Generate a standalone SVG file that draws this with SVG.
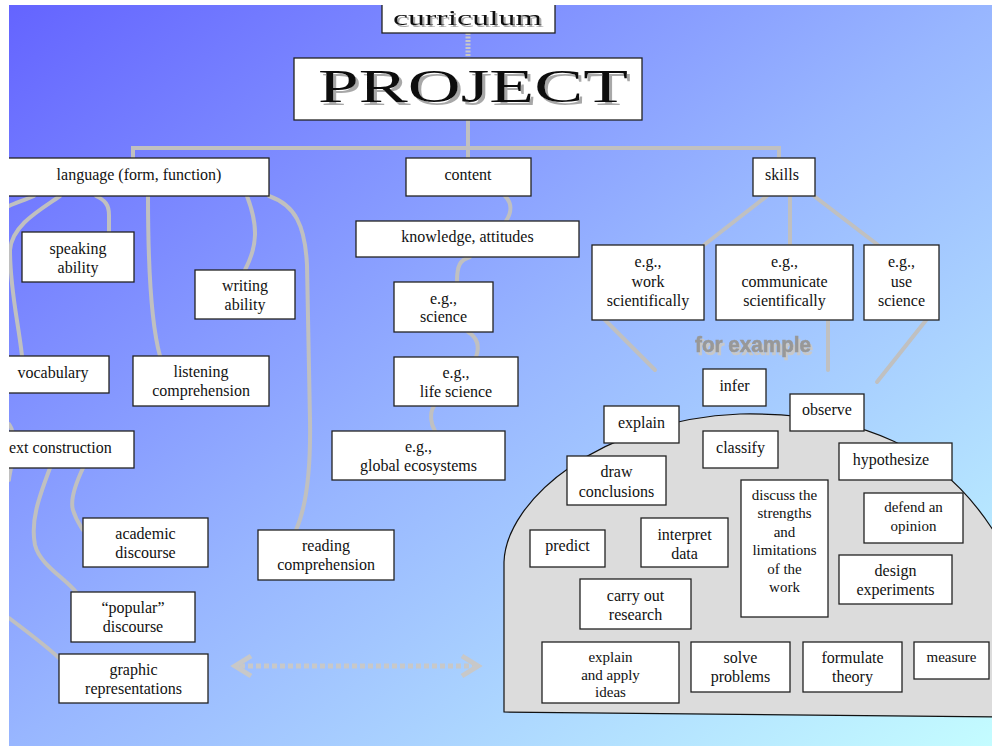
<svg xmlns="http://www.w3.org/2000/svg" width="992" height="746" viewBox="0 0 992 746">
<defs>
<linearGradient id="bg" x1="0" y1="0" x2="1" y2="1">
<stop offset="0" stop-color="#6464FF"/>
<stop offset="0.5" stop-color="#98B6FF"/>
<stop offset="1" stop-color="#C4FCFF"/>
</linearGradient>
<filter id="sh" x="-10%" y="-30%" width="130%" height="170%">
<feOffset in="SourceAlpha" dx="2" dy="2" result="o"/>
<feFlood flood-color="#AAAAAA"/>
<feComposite in2="o" operator="in" result="s"/>
<feMerge><feMergeNode in="s"/><feMergeNode in="SourceGraphic"/></feMerge>
</filter>
<filter id="sh2" x="-10%" y="-30%" width="130%" height="170%">
<feOffset in="SourceAlpha" dx="3" dy="3" result="o"/>
<feFlood flood-color="#A8A8A8"/>
<feComposite in2="o" operator="in" result="s"/>
<feMerge><feMergeNode in="s"/><feMergeNode in="SourceGraphic"/></feMerge>
</filter>
<filter id="sh3" x="-10%" y="-30%" width="130%" height="170%">
<feOffset in="SourceAlpha" dx="2" dy="3" result="o"/>
<feFlood flood-color="#C8C8C8"/>
<feComposite in2="o" operator="in" result="s"/>
<feMerge><feMergeNode in="s"/><feMergeNode in="SourceGraphic"/></feMerge>
</filter>
</defs>
<style>
.box{fill:#fff;stroke:#222;stroke-width:1.3}
.t{font-family:"Liberation Serif","Times New Roman",serif;font-size:16px;fill:#111;text-anchor:middle}
.s{font-size:15px}
.conn path,.conn line{fill:none;stroke:#C0C0C0;stroke-width:4;stroke-linecap:round}
.arr{fill:none;stroke:#C8C8C8;stroke-width:5}
</style>
<rect x="0" y="0" width="992" height="746" fill="#fff"/>
<rect x="9" y="5" width="983" height="741" fill="url(#bg)"/>

<g id="examples-area">
<path d="M504,712 L504,562 C506,500 600,420 740,414 C850,412 950,440 1010,560 L1010,717 Z" fill="#DCDCDC" stroke="#111" stroke-width="1.2"/>
</g>

<g class="conn" id="connectors">
<line x1="468" y1="33" x2="468" y2="58" style="stroke:#C8C8C8;stroke-width:5;stroke-dasharray:2 1.5;stroke-linecap:butt"/>
<path d="M468,120 L468,158"/>
<path d="M133,158 L133,148 L779,148 L779,158"/>
<path d="M34,196 C25,200 15,203 9,206"/>
<path d="M60,196 C40,210 12,225 10,250 C10,290 18,320 22,356"/>
<path d="M96,196 C105,200 109,205 109,215 L109,232"/>
<path d="M148,196 C148,260 150,320 160,356"/>
<path d="M247,196 C258,225 258,245 245,270"/>
<path d="M269,196 C295,205 305,225 307,265 L310,420 C311,480 305,510 296,530"/>
<path d="M9,424 C11,427 12,429 12,431"/>
<path d="M11,468 C10,473 9,477 9,480"/>
<path d="M50,468 C40,495 30,520 35,545 C40,565 65,578 76,592"/>
<path d="M83,468 C75,485 70,500 73,510 C76,520 80,525 83,530"/>
<path d="M9,618 C25,630 45,645 59,658"/>
<path d="M505,196 C512,203 512,212 506,221"/>
<path d="M470,257 C460,260 457,265 457,282"/>
<path d="M468,332 C478,338 480,346 476,357"/>
<path d="M434,406 C429,414 431,424 435,431"/>
<line x1="767" y1="196" x2="704" y2="245"/>
<line x1="790" y1="196" x2="790" y2="245"/>
<line x1="814" y1="196" x2="878" y2="245"/>
<line x1="604" y1="319" x2="655" y2="370"/>
<line x1="828" y1="319" x2="828" y2="370"/>
<line x1="927" y1="319" x2="877" y2="382"/>
</g>

<g id="link-arrow">
<line x1="240" y1="666" x2="473" y2="666" class="arr" style="stroke-dasharray:5 3"/>
<polyline points="251,656 235,666 251,676" class="arr"/>
<polyline points="462,656 478,666 462,676" class="arr"/>
</g>

<g id="for-example">
<text x="695" y="352" font-family="'Liberation Sans Narrow','Liberation Sans',sans-serif" font-weight="bold" font-size="22" fill="#989898" stroke="#989898" stroke-width="0.6" textLength="116" lengthAdjust="spacingAndGlyphs" filter="url(#sh3)">for example</text>
</g>

<g id="curriculum">
<rect class="box" x="382" y="-2" width="173" height="35"/>
<text x="393" y="25" font-family="'Liberation Serif',serif" font-size="22" fill="#111" textLength="149" lengthAdjust="spacingAndGlyphs" filter="url(#sh)">curriculum</text>
</g>
<g id="project">
<rect class="box" x="294" y="58" width="348" height="62"/>
<text x="318" y="102" font-family="'Liberation Serif',serif" font-size="46" fill="#111" textLength="310" lengthAdjust="spacingAndGlyphs" filter="url(#sh2)">PROJECT</text>
</g>

<g id="language"><rect class="box" x="4" y="158" width="265" height="38"/><text class="t" x="139" y="180">language (form, function)</text></g>
<g id="content"><rect class="box" x="406" y="158" width="125" height="38"/><text class="t" x="468" y="180">content</text></g>
<g id="skills"><rect class="box" x="753" y="158" width="62" height="38"/><text class="t" x="782" y="180">skills</text></g>

<g id="speaking"><rect class="box" x="22" y="232" width="112" height="50"/><text class="t" x="78" y="254">speaking</text><text class="t" x="78" y="273">ability</text></g>
<g id="writing"><rect class="box" x="195" y="270" width="100" height="49"/><text class="t" x="245" y="291">writing</text><text class="t" x="245" y="310">ability</text></g>
<g id="vocabulary"><rect class="box" x="4" y="356" width="105" height="37"/><text class="t" x="53" y="378">vocabulary</text></g>
<g id="listening"><rect class="box" x="133" y="356" width="136" height="50"/><text class="t" x="201" y="377">listening</text><text class="t" x="201" y="396">comprehension</text></g>
<g id="text-construction"><rect class="box" x="4" y="431" width="130" height="37"/><text class="t" x="9" y="453" style="text-anchor:start">ext construction</text></g>
<g id="academic"><rect class="box" x="83" y="518" width="125" height="49"/><text class="t" x="145.5" y="539">academic</text><text class="t" x="145.5" y="558">discourse</text></g>
<g id="popular"><rect class="box" x="71" y="592" width="124" height="50"/><text class="t" x="133" y="613">“popular”</text><text class="t" x="133" y="632">discourse</text></g>
<g id="graphic"><rect class="box" x="59" y="654" width="149" height="49"/><text class="t" x="133.5" y="675">graphic</text><text class="t" x="133.5" y="694">representations</text></g>
<g id="reading"><rect class="box" x="258" y="530" width="136" height="50"/><text class="t" x="326" y="551">reading</text><text class="t" x="326" y="570">comprehension</text></g>

<g id="knowledge"><rect class="box" x="356" y="221" width="223" height="36"/><text class="t" x="467.5" y="242">knowledge, attitudes</text></g>
<g id="science"><rect class="box" x="394" y="282" width="99" height="50"/><text class="t" x="443.5" y="304">e.g.,</text><text class="t" x="443.5" y="322">science</text></g>
<g id="life-science"><rect class="box" x="394" y="357" width="124" height="49"/><text class="t" x="456" y="378">e.g.,</text><text class="t" x="456" y="397">life science</text></g>
<g id="global"><rect class="box" x="332" y="431" width="173" height="49"/><text class="t" x="418.5" y="452">e.g.,</text><text class="t" x="418.5" y="471">global ecosystems</text></g>

<g id="work"><rect class="box" x="592" y="245" width="112" height="75"/><text class="t" x="648" y="267">e.g.,</text><text class="t" x="648" y="286.5">work</text><text class="t" x="648" y="306">scientifically</text></g>
<g id="communicate"><rect class="box" x="716" y="245" width="137" height="75"/><text class="t" x="784.5" y="267">e.g.,</text><text class="t" x="784.5" y="286.5">communicate</text><text class="t" x="784.5" y="306">scientifically</text></g>
<g id="use"><rect class="box" x="864" y="245" width="75" height="75"/><text class="t" x="901.5" y="267">e.g.,</text><text class="t" x="901.5" y="286.5">use</text><text class="t" x="901.5" y="306">science</text></g>

<g id="infer"><rect class="box" x="703" y="369" width="63" height="37"/><text class="t" x="734.5" y="391">infer</text></g>
<g id="observe"><rect class="box" x="790" y="394" width="74" height="37"/><text class="t" x="827" y="415">observe</text></g>
<g id="explain"><rect class="box" x="604" y="406" width="75" height="37"/><text class="t" x="641.5" y="428">explain</text></g>
<g id="classify"><rect class="box" x="703" y="431" width="75" height="37"/><text class="t" x="740.5" y="453">classify</text></g>
<g id="hypothesize"><rect class="box" x="839" y="443" width="113" height="37"/><text class="t" x="891" y="465">hypothesize</text></g>
<g id="draw"><rect class="box" x="567" y="456" width="99" height="49"/><text class="t" x="616.5" y="477">draw</text><text class="t" x="616.5" y="497">conclusions</text></g>
<g id="discuss"><rect class="box" x="741" y="480" width="87" height="137"/><text class="t s" x="784.5" y="500">discuss the</text><text class="t s" x="784.5" y="518.4">strengths</text><text class="t s" x="784.5" y="536.8">and</text><text class="t s" x="784.5" y="555.2">limitations</text><text class="t s" x="784.5" y="573.6">of the</text><text class="t s" x="784.5" y="592">work</text></g>
<g id="defend"><rect class="box" x="864" y="493" width="99" height="50"/><text class="t s" x="913.5" y="512">defend an</text><text class="t s" x="913.5" y="531">opinion</text></g>
<g id="predict"><rect class="box" x="530" y="530" width="75" height="37"/><text class="t" x="567.5" y="551">predict</text></g>
<g id="interpret"><rect class="box" x="641" y="518" width="87" height="49"/><text class="t" x="684.5" y="540">interpret</text><text class="t" x="684.5" y="559">data</text></g>
<g id="design"><rect class="box" x="839" y="555" width="113" height="49"/><text class="t" x="895.5" y="576">design</text><text class="t" x="895.5" y="595">experiments</text></g>
<g id="carry"><rect class="box" x="580" y="579" width="111" height="50"/><text class="t" x="635.5" y="601">carry out</text><text class="t" x="635.5" y="620">research</text></g>
<g id="explain-apply"><rect class="box" x="542" y="642" width="137" height="61"/><text class="t s" x="610.5" y="662">explain</text><text class="t s" x="610.5" y="679.5">and apply</text><text class="t s" x="610.5" y="697">ideas</text></g>
<g id="solve"><rect class="box" x="691" y="642" width="99" height="50"/><text class="t" x="740.5" y="663">solve</text><text class="t" x="740.5" y="682">problems</text></g>
<g id="formulate"><rect class="box" x="803" y="642" width="99" height="50"/><text class="t" x="852.5" y="663">formulate</text><text class="t" x="852.5" y="682">theory</text></g>
<g id="measure"><rect class="box" x="914" y="642" width="75" height="37"/><text class="t s" x="951.5" y="662">measure</text></g>

<rect x="0" y="0" width="9" height="746" fill="#fff"/>
<rect x="0" y="0" width="992" height="5" fill="#fff"/>
</svg>
